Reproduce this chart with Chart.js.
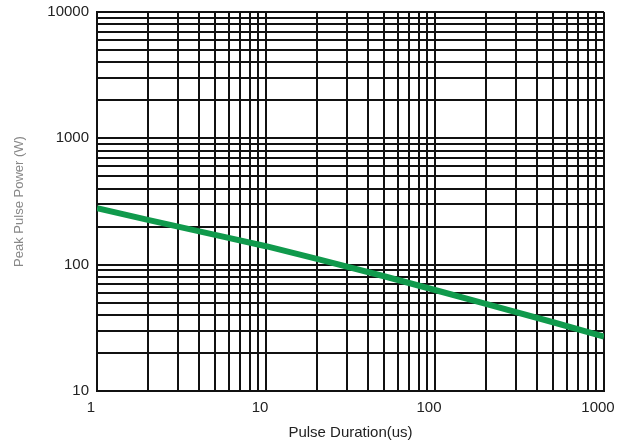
<!DOCTYPE html>
<html>
<head>
<meta charset="utf-8">
<script src="https://cdn.jsdelivr.net/npm/chart.js@4"></script>
<style>
html,body{margin:0;padding:0;background:#fff;}
#wrap{width:617px;height:442px;}
</style>
</head>
<body>
<div id="wrap"><canvas id="c" width="617" height="442"></canvas></div>
<script>
// Data
const pulseDuration = [1, 2, 5, 10, 20, 50, 100, 200, 500, 1000];      // us
const peakPower     = [280, 226, 172, 140, 111, 81, 63, 49, 35, 27];   // W

const xTickValues = [1,2,3,4,5,6,7,8,9,10,20,30,40,50,60,70,80,90,100,200,300,400,500,600,700,800,900,1000];
const yTickValues = [10,20,30,40,50,60,70,80,90,100,200,300,400,500,600,700,800,900,1000,2000,3000,4000,5000,6000,7000,8000,9000,10000];
const xLabels = ['1','10','100','1000'];
const yLabels = ['10','100','1000','10000'];

const xTitle = 'Pulse Duration(us)';
const yTitle = 'Peak Pulse Power (W)';

const gridColor = '#111';
const fontFamily = '"Liberation Sans", Arial, sans-serif';

new Chart(document.getElementById('c'), {
  type: 'line',
  data: {
    datasets: [{
      data: pulseDuration.map((x, i) => ({x: x, y: peakPower[i]})),
      borderColor: '#109a4c',
      borderWidth: 6,
      pointRadius: 0,
      tension: 0,
      fill: false
    }]
  },
  options: {
    responsive: false,
    animation: false,
    layout: {padding: {top: 12, right: 13, left: 0, bottom: 0}},
    plugins: {legend: {display: false}, tooltip: {enabled: false}},
    scales: {
      x: {
        type: 'logarithmic',
        min: 1, max: 1000,
        afterBuildTicks: s => { s.ticks = xTickValues.map(v => ({value: v})); },
        afterFit: s => { s.height = 51; s.paddingRight = 0; s.paddingLeft = 0; },
        grid: {color: gridColor, lineWidth: 2, drawTicks: false},
        border: {color: gridColor, width: 2},
        ticks: {
          autoSkip: false, maxRotation: 0, padding: 8, labelOffset: -6,
          color: '#222', font: {family: fontFamily, size: 15},
          callback: v => xLabels.includes(String(v)) ? String(v) : ''
        },
        title: {display: true, text: xTitle, color: '#222', padding: {top: 2, bottom: 0},
                font: {family: fontFamily, size: 15}}
      },
      y: {
        type: 'logarithmic',
        min: 10, max: 10000,
        afterBuildTicks: s => { s.ticks = yTickValues.map(v => ({value: v})); },
        afterFit: s => { s.width = 97; s.paddingTop = 0; s.paddingBottom = 0; },
        grid: {color: gridColor, lineWidth: 2, drawTicks: false},
        border: {color: gridColor, width: 2},
        ticks: {
          autoSkip: false, padding: 8,
          color: '#222', font: {family: fontFamily, size: 15},
          callback: v => yLabels.includes(String(v)) ? String(v) : ''
        },
        title: {display: true, text: yTitle, color: '#888', padding: {top: 12, bottom: 0},
                font: {family: fontFamily, size: 13}}
      }
    }
  }
});
</script>
</body>
</html>
